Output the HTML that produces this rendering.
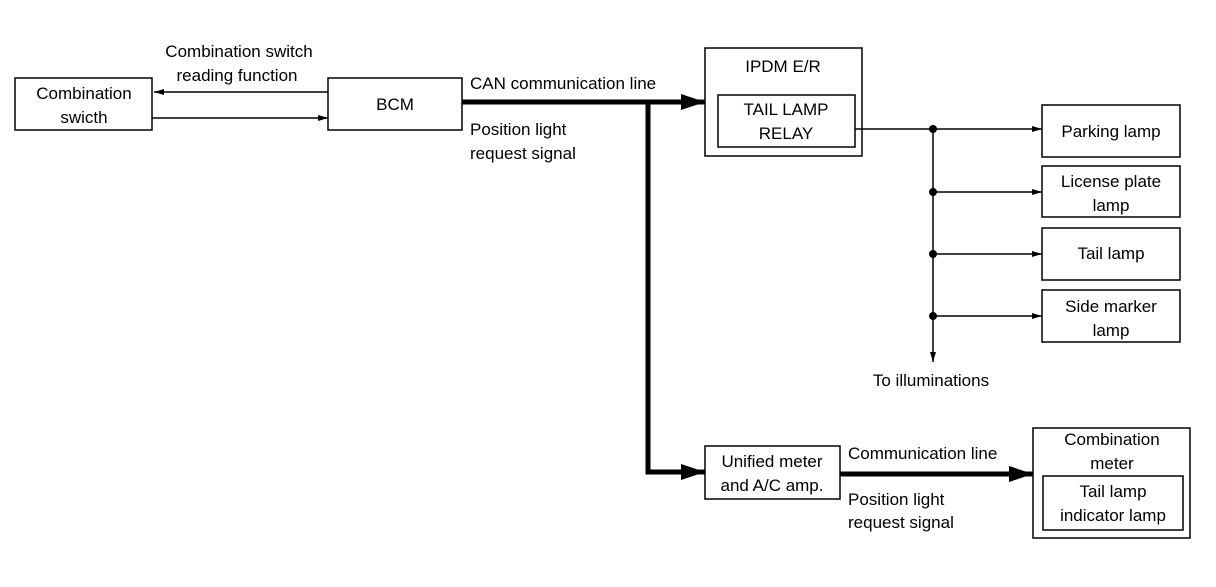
<!DOCTYPE html>
<html><head><meta charset="utf-8"><style>html,body{margin:0;padding:0;background:#fff}</style></head>
<body>
<svg width="1216" height="582" xmlns="http://www.w3.org/2000/svg" font-family="Liberation Sans, sans-serif" font-size="17" fill="#000">
<defs>
<marker id="a" markerWidth="10" markerHeight="8" refX="10" refY="4" orient="auto" markerUnits="userSpaceOnUse"><path d="M0,1 L10,4 L0,7 Z"/></marker>
<marker id="b" markerWidth="24" markerHeight="16" refX="24" refY="8" orient="auto" markerUnits="userSpaceOnUse"><path d="M0,0 L24,8 L0,16 Z"/></marker>
</defs>
<g fill="none" stroke="#000" stroke-width="1.5">
<rect x="15" y="78" width="137" height="52"/>
<rect x="328" y="78" width="134" height="52"/>
<rect x="705" y="48" width="157" height="108"/>
<rect x="718" y="95" width="137" height="52"/>
<rect x="1042" y="105" width="138" height="52"/>
<rect x="1042" y="166" width="138" height="51"/>
<rect x="1042" y="228" width="138" height="52"/>
<rect x="1042" y="290" width="138" height="52"/>
<rect x="705" y="446" width="135" height="53"/>
<rect x="1033" y="428" width="157" height="110"/>
<rect x="1043" y="476" width="140" height="54"/>
<line x1="328" y1="92" x2="154" y2="92" marker-end="url(#a)"/>
<line x1="152" y1="118" x2="328" y2="118" marker-end="url(#a)"/>
<line x1="855" y1="129" x2="1042" y2="129" marker-end="url(#a)"/>
<line x1="933" y1="192" x2="1042" y2="192" marker-end="url(#a)"/>
<line x1="933" y1="254" x2="1042" y2="254" marker-end="url(#a)"/>
<line x1="933" y1="316" x2="1042" y2="316" marker-end="url(#a)"/>
<line x1="933" y1="129" x2="933" y2="362" marker-end="url(#a)"/>
</g>
<g fill="none" stroke="#000" stroke-width="5">
<line x1="462" y1="102" x2="705" y2="102" marker-end="url(#b)" stroke-width="5"/>
<polyline points="648,102 648,472 705,472" marker-end="url(#b)"/>
<line x1="840" y1="474" x2="1033" y2="474" marker-end="url(#b)"/>
</g>
<g fill="#000"><circle cx="933" cy="129" r="4"/><circle cx="933" cy="192" r="4"/><circle cx="933" cy="254" r="4"/><circle cx="933" cy="316" r="4"/></g>
<g text-anchor="middle">
<text x="239" y="57">Combination switch</text>
<text x="237" y="81">reading function</text>
<text x="84" y="99">Combination</text>
<text x="84" y="123">swicth</text>
<text x="395" y="110">BCM</text>
<text x="783" y="72">IPDM E/R</text>
<text x="786" y="115">TAIL LAMP</text>
<text x="786" y="139">RELAY</text>
<text x="1111" y="137">Parking lamp</text>
<text x="1111" y="187">License plate</text>
<text x="1111" y="211">lamp</text>
<text x="1111" y="259">Tail lamp</text>
<text x="1111" y="312">Side marker</text>
<text x="1111" y="336">lamp</text>
<text x="931" y="386">To illuminations</text>
<text x="772" y="467">Unified meter</text>
<text x="772" y="491">and A/C amp.</text>
<text x="1112" y="445">Combination</text>
<text x="1112" y="469">meter</text>
<text x="1113" y="497">Tail lamp</text>
<text x="1113" y="521">indicator lamp</text>
</g>
<text x="470" y="89">CAN communication line</text>
<text x="470" y="135">Position light</text>
<text x="470" y="159">request signal</text>
<text x="848" y="459">Communication line</text>
<text x="848" y="505">Position light</text>
<text x="848" y="528">request signal</text>
</svg>
</body></html>
